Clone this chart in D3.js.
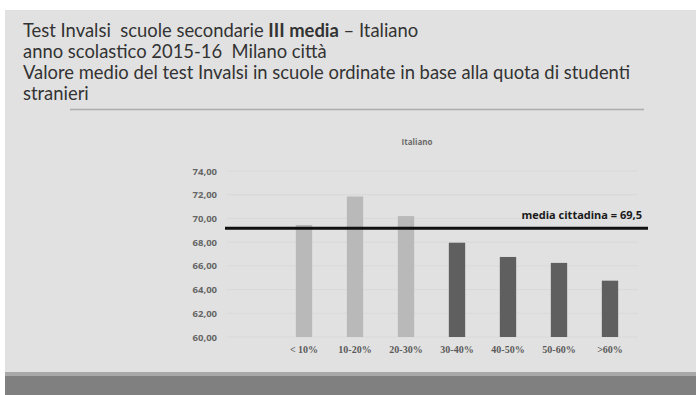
<!DOCTYPE html>
<html>
<head>
<meta charset="utf-8">
<script src="https://cdn.jsdelivr.net/npm/d3@7"></script>
<style>
  body { margin: 0; background: #fff; }
  svg { display: block; }
</style>
</head>
<body>
<div id="chart"></div>
<script>
// data
var categories = ["< 10%", "10-20%", "20-30%", "30-40%", "40-50%", "50-60%", ">60%"];
var values = [69.45, 71.85, 70.2, 67.95, 66.75, 66.25, 64.75];
var belowShare = [true, true, true, false, false, false, false]; // light bars = low share of foreign students
var yTicks = [60, 62, 64, 66, 68, 70, 72, 74];
var cityMean = 69.17; // where the line is drawn
var cityMeanLabel = "media cittadina = 69,5";
var titleLines = [
  [{t: "Test Invalsi  scuole secondarie "}, {t: "III media", b: true}, {t: " \u2013 Italiano"}],
  [{t: "anno scolastico 2015-16  Milano citt\u00e0"}],
  [{t: "Valore medio del test Invalsi in scuole ordinate in base alla quota di studenti"}],
  [{t: "stranieri"}]
];

var svgWidth = 696, svgHeight = 395;

var svg = d3.select("#chart")
  .append("svg")
  .attr("width", svgWidth)
  .attr("height", svgHeight);

// slide background
svg.append("rect")
  .attr("x", 5).attr("y", 10)
  .attr("width", svgWidth - 5).attr("height", svgHeight - 10)
  .attr("fill", "#e1e1e1");
svg.append("rect")
  .attr("x", 5).attr("y", 372)
  .attr("width", svgWidth - 5).attr("height", 4)
  .attr("fill", "#a9a9a9");
svg.append("rect")
  .attr("x", 5).attr("y", 376)
  .attr("width", svgWidth - 5).attr("height", 19)
  .attr("fill", "#808080");

// title block
var title = svg.append("g")
  .attr("font-family", "Lato, 'Open Sans', sans-serif")
  .attr("font-size", "18.4px")
  .attr("fill", "#333");

titleLines.forEach(function(parts, i) {
  var t = title.append("text")
    .attr("x", 23)
    .attr("y", 37 + i * 21)
    .style("white-space", "pre");
  parts.forEach(function(p) {
    t.append("tspan")
      .attr("font-weight", p.b ? "bold" : null)
      .text(p.t);
  });
});

svg.append("line")
  .attr("x1", 70).attr("x2", 644)
  .attr("y1", 109.5).attr("y2", 109.5)
  .attr("stroke", "#adadad")
  .attr("stroke-width", 1.5);

// chart
var x = d3.scaleBand()
  .domain(categories)
  .range([278.5, 635.5])
  .paddingInner(0.68)
  .paddingOuter(0.34);

var y = d3.scaleLinear()
  .domain([60, 74])
  .range([337, 171]);

var chartGroup = svg.append("g");

chartGroup.append("text")
  .attr("x", 417).attr("y", 145)
  .attr("text-anchor", "middle")
  .attr("font-family", "'Open Sans', sans-serif")
  .attr("font-size", "8px")
  .attr("font-weight", "bold")
  .attr("fill", "#6a6a6a")
  .text("Italiano");

// gridlines
chartGroup.append("g")
  .selectAll("line")
  .data(yTicks)
  .enter()
  .append("line")
  .attr("x1", 227).attr("x2", 638)
  .attr("y1", d => y(d)).attr("y2", d => y(d))
  .attr("stroke", "#d9d9d9")
  .attr("stroke-width", 1);

var yAxis = d3.axisLeft(y)
  .tickValues(yTicks)
  .tickSize(0)
  .tickPadding(0)
  .tickFormat(d => d3.format(".2f")(d).replace(".", ","));

chartGroup.append("g")
  .attr("transform", "translate(217,0)")
  .call(yAxis)
  .call(g => g.select(".domain").remove())
  .selectAll("text")
  .attr("font-family", "'Open Sans', sans-serif")
  .attr("font-size", "9.5px")
  .attr("font-weight", "bold")
  .attr("fill", "#666");

chartGroup.selectAll("rect.bar")
  .data(values)
  .enter()
  .append("rect")
  .attr("class", "bar")
  .attr("x", (d, i) => x(categories[i]))
  .attr("width", x.bandwidth())
  .attr("y", d => y(d))
  .attr("height", d => y(60) - y(d))
  .attr("fill", (d, i) => belowShare[i] ? "#b9b9b9" : "#5f5f5f");

var xAxis = d3.axisBottom(x).tickSize(0).tickPadding(0);

chartGroup.append("g")
  .attr("transform", "translate(0,346)")
  .call(xAxis)
  .call(g => g.select(".domain").remove())
  .selectAll("text")
  .attr("font-family", "'Liberation Serif', serif")
  .attr("font-size", "10px")
  .attr("font-weight", "bold")
  .attr("fill", "#5a5a5a");

// city mean line
chartGroup.append("line")
  .attr("x1", 225).attr("x2", 648)
  .attr("y1", y(cityMean)).attr("y2", y(cityMean))
  .attr("stroke", "#111")
  .attr("stroke-width", 3);

chartGroup.append("text")
  .attr("x", 642).attr("y", y(cityMean) - 9)
  .attr("text-anchor", "end")
  .attr("font-family", "'Open Sans', sans-serif")
  .attr("font-size", "11px")
  .attr("font-weight", "bold")
  .attr("fill", "#1a1a1a")
  .text(cityMeanLabel);
</script>
</body>
</html>
